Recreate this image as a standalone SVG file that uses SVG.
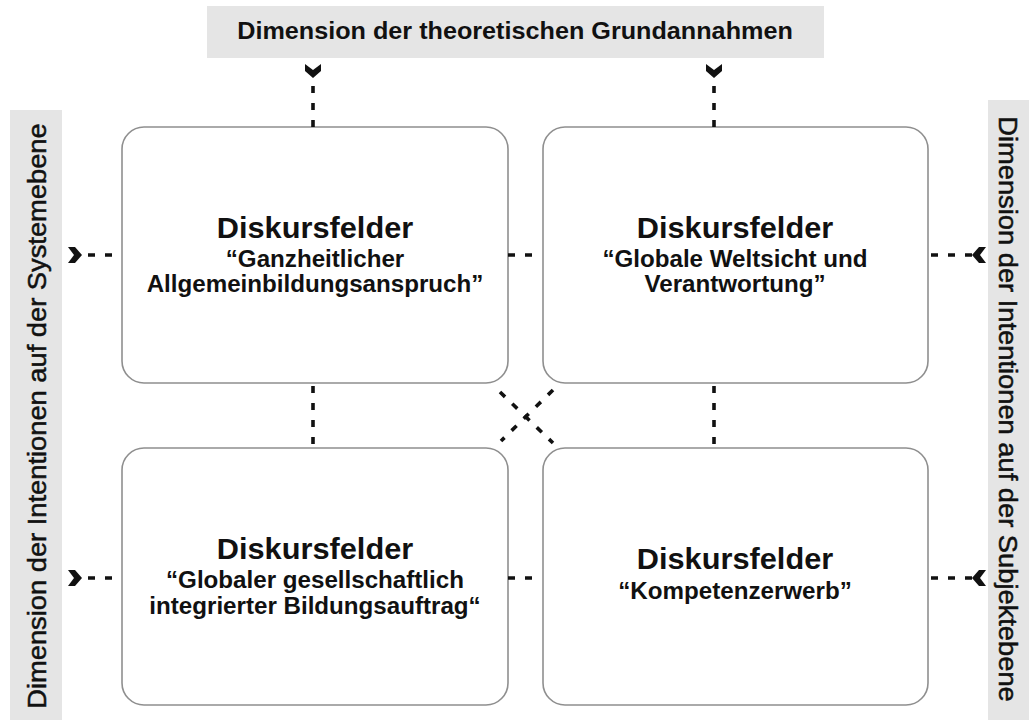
<svg xmlns="http://www.w3.org/2000/svg" width="1029" height="720" viewBox="0 0 1029 720">
<style>
.banner{fill:#e5e5e5;}
.box{fill:#ffffff;stroke:#8f8f8f;stroke-width:1.6;}
.t{font-family:"Liberation Sans",Arial,sans-serif;font-weight:bold;fill:#111;text-anchor:middle;}
.title{font-size:29px;}
.sub{font-size:23px;}
.bt{font-size:24px;}
.vt{font-family:"Liberation Sans",Arial,sans-serif;font-size:26px;fill:#111;stroke:#111;stroke-width:0.5;text-anchor:middle;}
.dash{stroke:#111;stroke-width:3.6;fill:none;stroke-dasharray:7 10;}
.chev{fill:#111;}
</style>
<rect width="1029" height="720" fill="#ffffff"/>
<g id="banner-top">
<rect class="banner" x="207" y="6" width="617" height="52"/>
<text class="t bt" transform="translate(515,39) scale(1.05,1)">Dimension der theoretischen Grundannahmen</text>
</g>
<g id="banner-left">
<rect class="banner" x="10" y="110" width="52" height="610"/>
<text class="vt" transform="translate(46,416) rotate(-90) scale(1.05,1)">Dimension der Intentionen auf der Systemebene</text>
</g>
<g id="banner-right">
<rect class="banner" x="988" y="100" width="41" height="620"/>
<text class="vt" transform="translate(999,409) rotate(90) scale(1.05,1)">Dimension der Intentionen auf der Subjektebene</text>
</g>
<g id="node-tl">
<rect class="box" x="122" y="127" width="386" height="256" rx="22" ry="22"/>
<text class="t title" transform="translate(315,238) scale(1.06,1)">Diskursfelder</text>
<text class="t sub" transform="translate(315,267) scale(1.05,1)">“Ganzheitlicher</text>
<text class="t sub" transform="translate(315,292) scale(1.05,1)">Allgemeinbildungsanspruch”</text>
</g>
<g id="node-tr">
<rect class="box" x="543" y="127" width="385" height="256" rx="22" ry="22"/>
<text class="t title" transform="translate(735,238) scale(1.06,1)">Diskursfelder</text>
<text class="t sub" transform="translate(735,267) scale(1.05,1)">“Globale Weltsicht und</text>
<text class="t sub" transform="translate(735,292) scale(1.05,1)">Verantwortung”</text>
</g>
<g id="node-bl">
<rect class="box" x="122" y="448" width="386" height="257" rx="22" ry="22"/>
<text class="t title" transform="translate(315,559) scale(1.06,1)">Diskursfelder</text>
<text class="t sub" transform="translate(315,588) scale(1.05,1)">“Globaler gesellschaftlich</text>
<text class="t sub" transform="translate(315,614) scale(1.05,1)">integrierter Bildungsauftrag“</text>
</g>
<g id="node-br">
<rect class="box" x="543" y="448" width="385" height="257" rx="22" ry="22"/>
<text class="t title" transform="translate(735,569) scale(1.06,1)">Diskursfelder</text>
<text class="t sub" transform="translate(735,599) scale(1.05,1)">“Kompetenzerwerb”</text>
</g>
<g id="connectors">
<line class="dash" x1="313" y1="127" x2="313" y2="85" stroke-dasharray="6.5 10"/>
<polygon class="chev" points="305,64 313,70 321,64 321,71 313,78 305,71"/>
<line class="dash" x1="714" y1="127" x2="714" y2="85" stroke-dasharray="6.5 10"/>
<polygon class="chev" points="706,64 714,70 722,64 722,71 714,78 706,71"/>
<line class="dash" x1="88" y1="255" x2="115" y2="255"/>
<polygon class="chev" points="68,247 74,255 68,263 75,263 82,255 75,247"/>
<line class="dash" x1="88" y1="578" x2="115" y2="578"/>
<polygon class="chev" points="68,570 74,578 68,586 75,586 82,578 75,570"/>
<line class="dash" x1="931" y1="255" x2="975" y2="255"/>
<polygon class="chev" points="986,247 980,255 986,263 979,263 972,255 979,247"/>
<line class="dash" x1="931" y1="578" x2="975" y2="578"/>
<polygon class="chev" points="986,570 980,578 986,586 979,586 972,578 979,570"/>
<line class="dash" x1="508" y1="255" x2="534" y2="255" stroke-dasharray="6.5 11.5"/>
<line class="dash" x1="508" y1="578" x2="534" y2="578" stroke-dasharray="6.5 11.5"/>
<line class="dash" x1="313" y1="386" x2="313" y2="446"/>
<line class="dash" x1="714" y1="386" x2="714" y2="446"/>
<line class="dash" x1="500" y1="392" x2="553" y2="443"/>
<line class="dash" x1="553" y1="390" x2="501" y2="441"/>
</g>
</svg>
